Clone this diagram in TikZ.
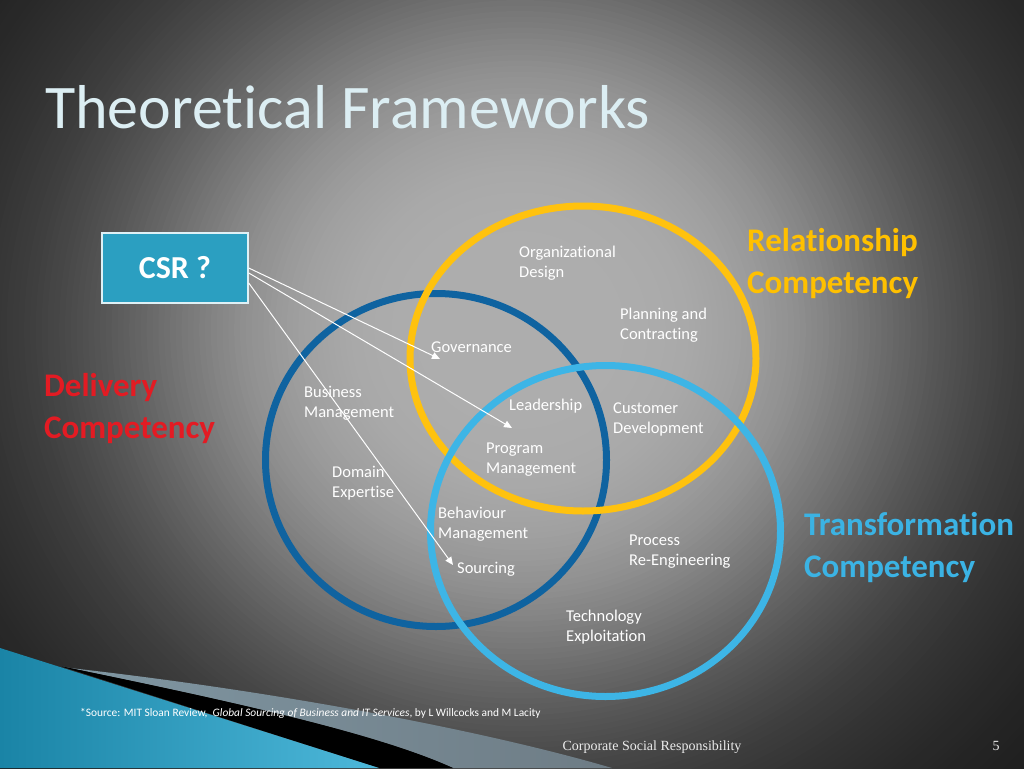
\documentclass[tikz,border=0pt]{standalone}
\usepackage{fontspec}
\setmainfont{Carlito}[Ligatures=NoCommon]
\newfontfamily\footerfont{Liberation Serif}
\usetikzlibrary{arrows.meta,positioning}

\definecolor{ringdark}{HTML}{0F63A0}
\definecolor{ringgold}{HTML}{FFC20E}
\definecolor{ringsky}{HTML}{3DB5E6}
\definecolor{csrfill}{HTML}{2B9FC1}
\definecolor{deliveryred}{HTML}{E31B23}
\definecolor{relgold}{HTML}{FFC000}
\definecolor{transsky}{HTML}{3BB3E4}
\definecolor{titlewhite}{HTML}{DCEEF3}
\definecolor{tealdark}{HTML}{1A84A6}
\definecolor{teallight}{HTML}{4DB8DA}
\definecolor{bandgray}{HTML}{8097A3}
\definecolor{bandfade}{HTML}{6E7C85}

\tikzset{
        ring/.style={line width=7pt},
        item/.style={anchor=north west, inner sep=0pt, text=white, align=left,
                font=\fontsize{16.5}{20}\selectfont},
        competency/.style={anchor=north west, inner sep=0pt, align=left,
                font=\fontsize{33}{42}\selectfont\bfseries},
        csrbox/.style={draw=white!85!csrfill, line width=1.5pt, fill=csrfill, text=white,
                minimum width=146pt, minimum height=70pt, font=\fontsize{32}{36}\selectfont\bfseries},
        csrarrow/.style={white, line width=1pt, -{Triangle[length=8pt,width=7pt]}},
        footer/.style={anchor=base, inner sep=0pt, text=white!92!black,
                font=\footerfont\fontsize{14}{16}\selectfont}
}

\begin{document}
\begin{tikzpicture}[x=1pt, y=-1pt]
        \useasboundingbox (0, 0) rectangle (1024, 768);
        \clip (0, 0) rectangle (1024, 768);
        \fill[black!93] (0, 0) rectangle (1024, 768);
        \foreach \k in {150,...,1} {
                \pgfmathsetmacro\rr{\k/120}
                \pgfmathsetmacro\lvl{100*(0.06+0.62/(1+(\rr/0.57)^4))}
                \fill[white!\lvl!black] (520, 330) ellipse [x radius=\rr*700, y radius=\rr*660];
        }

        \shade[left color=bandgray, right color=bandfade] (70, 668) .. controls (300, 694) and (500, 735) .. (612, 768)
                -- (453, 768) .. controls (380, 735) and (250, 705) .. (60, 666) -- cycle;
        \fill[black] (60, 666) .. controls (250, 705) and (380, 735) .. (453, 768) -- (379, 768) -- cycle;
        \shade[left color=tealdark, right color=teallight] (0, 648) -- (379, 768) -- (0, 768) -- cycle;

        \node[anchor=base west, inner sep=0pt, text=titlewhite,
                font=\fontsize{62}{70}\selectfont] (title) at (45, 128) {Theoretical Frameworks};

        \foreach \c/\rx/\ry/\col in {{(436, 460)}/170.5/166.5/ringdark, {(583, 358.5)}/173/152.5/ringgold,
                {(605.5, 531)}/175/165.5/ringsky}
                \draw[ring, draw=\col] \c ellipse [x radius=\rx, y radius=\ry];

        \node[csrbox] (csr) at (175, 268) {CSR ?};

        \node[item] (orgdesign) at (519, 246) {Organizational\\Design};
        \node[item] (planning) at (620, 308) {Planning and\\Contracting};
        \node[item] (governance) at (431, 342) {Governance};
        \node[item] (business) at (304, 386) {Business\\Management};
        \node[item] (leadership) at (509, 399) {Leadership};
        \node[item] (customer) at (613, 403) {Customer\\Development};
        \node[item] (program) at (486, 443) {Program\\Management};
        \node[item] (domain) at (332, 466) {Domain\\Expertise};
        \node[item] (behaviour) at (438, 507) {Behaviour\\Management};
        \node[item] (process) at (629, 535) {Process\\Re-Engineering};
        \node[item] (sourcing) at (457, 562) {Sourcing};
        \node[item] (technology) at (566, 610) {Technology\\Exploitation};

        \node[competency, text=relgold] (relationship) at (747, 228) {Relationship\\Competency};
        \node[competency, text=deliveryred] (delivery) at (44, 373) {Delivery\\Competency};
        \node[competency, text=transsky] (transformation) at (804, 512) {Transformation\\Competency};

        \coordinate (govtip) at (440, 359);
        \coordinate (leadtip) at (512, 428);
        \coordinate (sourcetip) at (453, 565);
        \foreach \dy/\tip in {0/govtip, 5/leadtip, 15/sourcetip}
                \draw[csrarrow] ([yshift=-\dy pt]csr.east) -- (\tip);

        \node[anchor=base west, inner sep=0pt, text=white, font=\fontsize{11.4}{13}\selectfont] (source) at (80, 716)
                {*Source: MIT Sloan Review,\ \ \textit{Global Sourcing of Business and IT Services}, by L Willcocks and M Lacity};
        \node[footer] (footertext) at (652, 750) {Corporate Social Responsibility};
        \node[footer] (pagenum) at (996, 750) {5};
\end{tikzpicture}
\end{document}
